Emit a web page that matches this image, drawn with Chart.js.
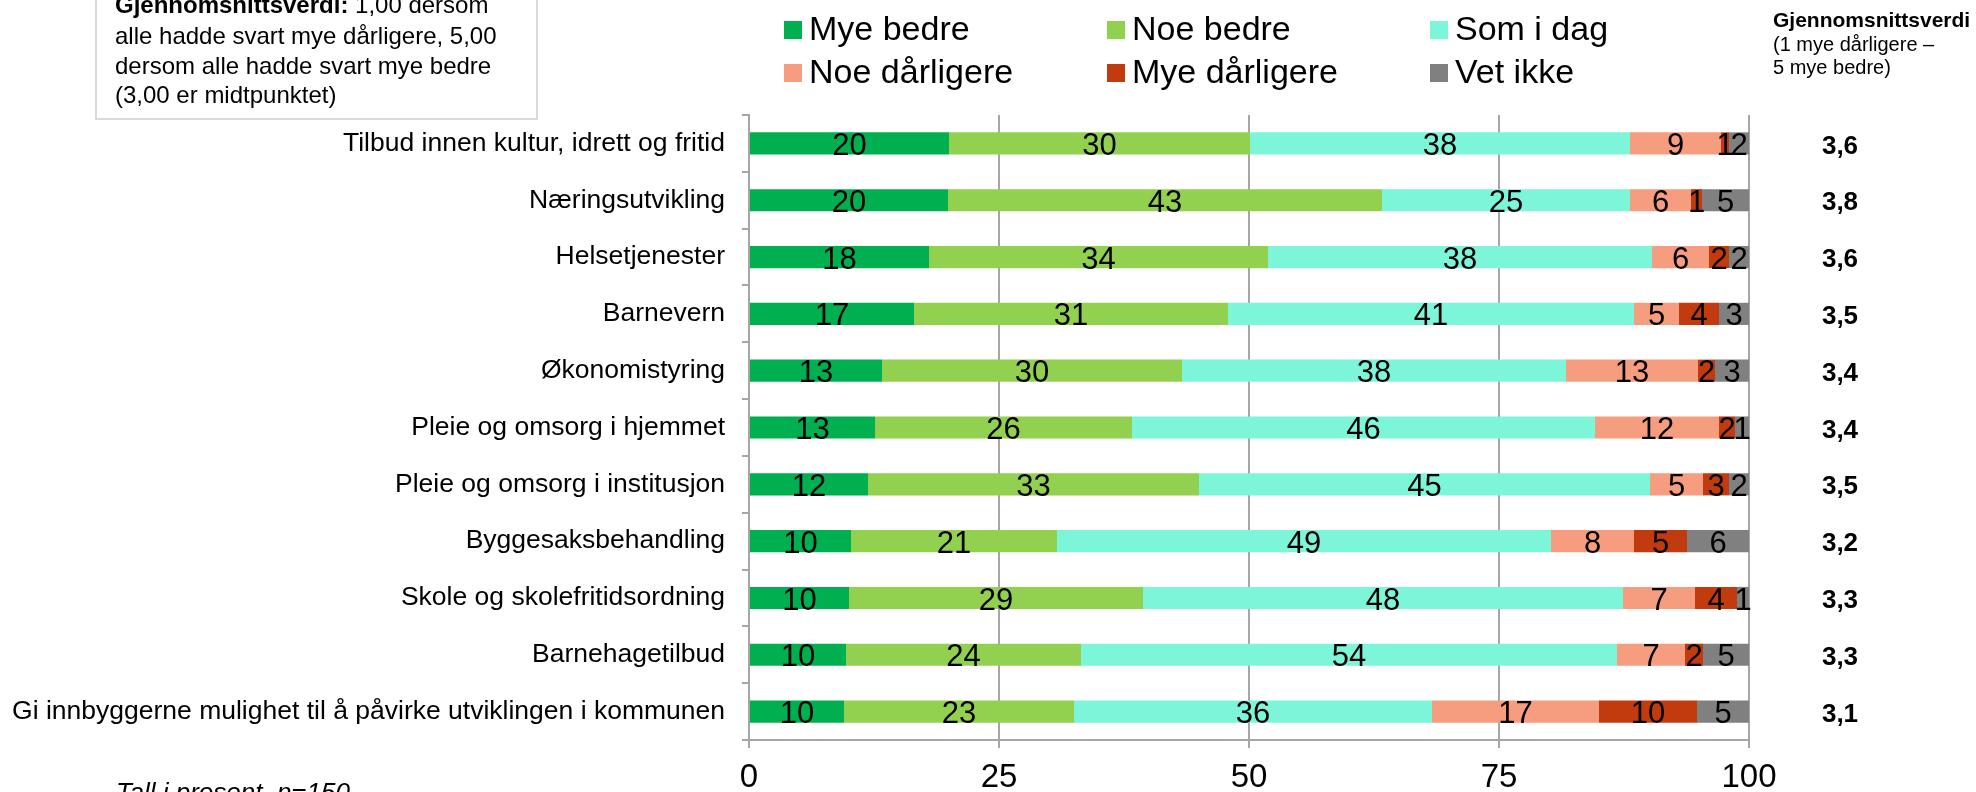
<!DOCTYPE html>
<html>
<head>
<meta charset="utf-8">
<title>Vurdering av kommunens tjenester</title>
<script src="https://cdn.jsdelivr.net/npm/chart.js"></script>
<style>
    body { margin: 0; background: #fff; }
    #wrap { width: 1976px; height: 792px; position: relative; }
</style>
</head>
<body>
<div id="wrap"><canvas id="chart"></canvas></div>

<script>
    const categories = [
        'Tilbud innen kultur, idrett og fritid',
        'Næringsutvikling',
        'Helsetjenester',
        'Barnevern',
        'Økonomistyring',
        'Pleie og omsorg i hjemmet',
        'Pleie og omsorg i institusjon',
        'Byggesaksbehandling',
        'Skole og skolefritidsordning',
        'Barnehagetilbud',
        'Gi innbyggerne mulighet til å påvirke utviklingen i kommunen'
    ];
    const seriesNames = ['Mye bedre', 'Noe bedre', 'Som i dag', 'Noe dårligere', 'Mye dårligere', 'Vet ikke'];
    const seriesColors = ['#00B050', '#92D050', '#7DF5D9', '#F59D7E', '#C23B0E', '#808080'];

    // percent per category
    const myeBedre     = [20.0, 19.9, 18.0, 16.5, 13.3, 12.6, 11.9, 10.2, 10.0,  9.7,  9.5];
    const noeBedre     = [30.1, 43.4, 33.9, 31.4, 30.0, 25.7, 33.1, 20.6, 29.4, 23.5, 23.0];
    const somIDag      = [38.0, 24.8, 38.4, 40.6, 38.4, 46.3, 45.1, 49.4, 48.0, 53.6, 35.8];
    const noeDarligere = [ 9.1,  6.1,  5.7,  4.5, 13.2, 12.4,  5.3,  8.3,  7.2,  6.8, 16.7];
    const myeDarligere = [ 0.8,  1.1,  2.0,  4.0,  1.7,  1.6,  2.6,  5.3,  4.2,  1.8,  9.8];
    const vetIkke      = [ 2.0,  4.7,  2.0,  3.0,  3.4,  1.4,  2.0,  6.2,  1.2,  4.6,  5.2];

    // average score (1 mye dårligere - 5 mye bedre)
    const avgValues = [3.6, 3.8, 3.6, 3.5, 3.4, 3.4, 3.5, 3.2, 3.3, 3.3, 3.1];

    const xTickStep = 25;

    const FONT = '"Liberation Sans", Arial, sans-serif';
    const allSeries = [myeBedre, noeBedre, somIDag, noeDarligere, myeDarligere, vetIkke];

    // numbers inside the bar segments
    const segmentLabels = {
        id: 'segmentLabels',
        afterDatasetsDraw(chart) {
            const ctx = chart.ctx;
            ctx.save();
            ctx.font = '31px ' + FONT;
            ctx.fillStyle = '#000';
            ctx.textAlign = 'center';
            ctx.textBaseline = 'middle';
            chart.data.datasets.forEach((ds, i) => {
                chart.getDatasetMeta(i).data.forEach((bar, j) => {
                    ctx.fillText(Math.round(ds.data[j]), (bar.x + bar.base) / 2, bar.y + 3);
                });
            });
            ctx.restore();
        }
    };

    // legend grid, note box, average column and footnote
    const extras = {
        id: 'extras',
        afterDraw(chart) {
            const ctx = chart.ctx;
            const yScale = chart.scales.y;
            ctx.save();

            // explanation box top left
            ctx.fillStyle = '#fff';
            ctx.strokeStyle = '#D9D9D9';
            ctx.lineWidth = 2;
            ctx.fillRect(96, -20, 441, 139);
            ctx.strokeRect(96, -20, 441, 139);
            ctx.fillStyle = '#000';
            ctx.textAlign = 'left';
            ctx.textBaseline = 'middle';
            ctx.font = 'bold 24px ' + FONT;
            const bold = 'Gjennomsnittsverdi:';
            ctx.fillText(bold, 115, 6);
            const bw = ctx.measureText(bold).width;
            ctx.font = '24px ' + FONT;
            ctx.fillText(' 1,00 dersom', 115 + bw, 6);
            ctx.fillText('alle hadde svart mye dårligere, 5,00', 115, 37);
            ctx.fillText('dersom alle hadde svart mye bedre', 115, 67);
            ctx.fillText('(3,00 er midtpunktet)', 115, 96);

            // legend, 3 columns x 2 rows
            const colX = [784, 1107, 1430];
            const rowY = [30, 73];
            ctx.font = '34px ' + FONT;
            chart.data.datasets.forEach((ds, i) => {
                const x = colX[i % 3];
                const y = rowY[Math.floor(i / 3)];
                ctx.fillStyle = ds.backgroundColor;
                ctx.fillRect(x, y - 9, 18, 18);
                ctx.fillStyle = '#000';
                ctx.fillText(ds.label, x + 25, y + 1);
            });

            // average column header
            ctx.font = 'bold 21px ' + FONT;
            ctx.fillText('Gjennomsnittsverdi', 1773, 21);
            ctx.font = '20px ' + FONT;
            ctx.fillText('(1 mye dårligere –', 1773, 45);
            ctx.fillText('5 mye bedre)', 1773, 68);

            // average values
            ctx.font = 'bold 26px ' + FONT;
            ctx.textAlign = 'center';
            avgValues.forEach((v, j) => {
                ctx.fillText(v.toFixed(1).replace('.', ','), 1840, yScale.getPixelForValue(j) + 3);
            });

            // footnote
            ctx.textAlign = 'left';
            ctx.textBaseline = 'top';
            ctx.font = 'italic 26px ' + FONT;
            ctx.fillText('Tall i prosent, n=150', 116, 781);

            ctx.restore();
        }
    };

    new Chart(document.getElementById('chart'), {
        type: 'bar',
        data: {
            labels: categories,
            datasets: allSeries.map((values, i) => ({
                label: seriesNames[i],
                data: values,
                backgroundColor: seriesColors[i],
                borderWidth: 0,
                barPercentage: 0.39,
                categoryPercentage: 1.0
            }))
        },
        options: {
            indexAxis: 'y',
            responsive: true,
            maintainAspectRatio: false,
            animation: false,
            layout: { padding: { top: 115, right: 227, bottom: 0, left: 0 } },
            plugins: {
                legend: { display: false },
                tooltip: { enabled: false }
            },
            scales: {
                x: {
                    stacked: true,
                    min: 0,
                    max: 100,
                    ticks: { stepSize: xTickStep, color: '#000', font: { family: FONT, size: 33 }, padding: 10 },
                    grid: { color: '#A6A6A6', lineWidth: 2, tickLength: 8 },
                    border: { color: '#A6A6A6', width: 2 },
                    afterFit: scale => { scale.height = 52; }
                },
                y: {
                    stacked: true,
                    ticks: { color: '#000', font: { family: FONT, size: 26.5 }, padding: 17, autoSkip: false },
                    grid: { drawOnChartArea: false, color: '#A6A6A6', lineWidth: 2, tickLength: 7 },
                    border: { color: '#A6A6A6', width: 2 },
                    afterFit: scale => { scale.width = 749; }
                }
            }
        },
        plugins: [segmentLabels, extras]
    });
</script>
</body>
</html>
